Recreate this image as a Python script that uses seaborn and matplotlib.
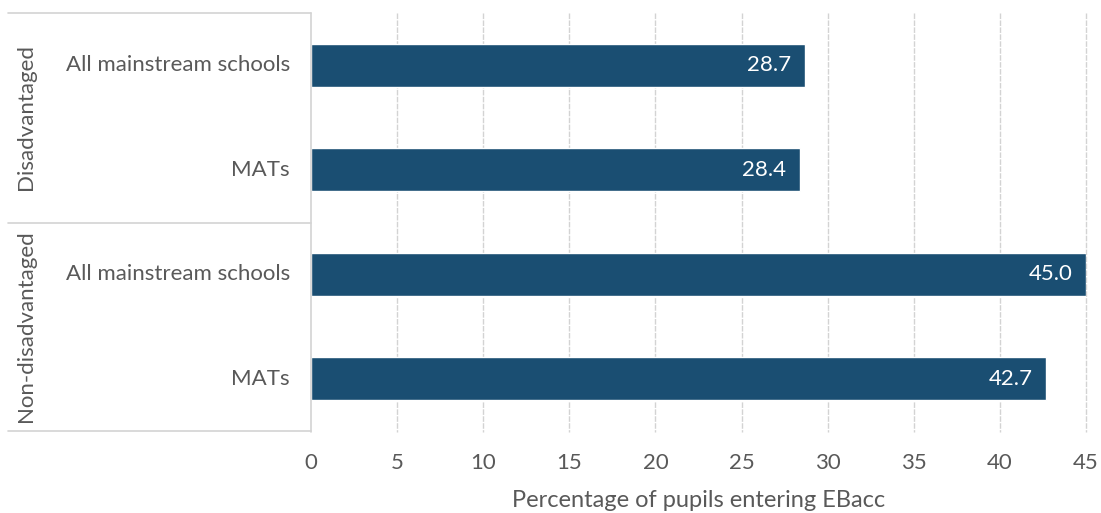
import matplotlib
matplotlib.use("Agg")
import matplotlib.pyplot as plt
from matplotlib.lines import Line2D
import seaborn as sns
import pandas as pd

# Chart data
groups = ["Disadvantaged", "Disadvantaged", "Non-disadvantaged", "Non-disadvantaged"]
schools = ["All mainstream schools", "MATs", "All mainstream schools", "MATs"]
ebacc_entry = [28.7, 28.4, 45.0, 42.7]
x_ticks = [0, 5, 10, 15, 20, 25, 30, 35, 40, 45]
x_label = "Percentage of pupils entering EBacc"

df = pd.DataFrame({
    "group": groups,
    "school": schools,
    "value": ebacc_entry,
})
df["row"] = df["group"] + " | " + df["school"]

sns.set_theme(style="white")
plt.rcParams["font.family"] = ["Lato", "DejaVu Sans"]

TEXT = "#595959"
GRID = "#D3D3D3"
BAR = "#1A4E72"
FS = 16

W, H = 1101, 513
fig = plt.figure(figsize=(W / 100, H / 100), dpi=100)
left, right, top, bottom = 311, 1086, 13, 431
ax = fig.add_axes([left / W, 1 - bottom / H, (right - left) / W, (bottom - top) / H])

sns.barplot(data=df, x="value", y="row", orient="h", color=BAR,
            width=0.41, saturation=1, ax=ax, errorbar=None)

ax.set_xlim(0, 45)
ax.set_ylim(3.5, -0.5)
ax.set_xticks(x_ticks)
ax.set_xticklabels([str(t) for t in x_ticks], color=TEXT, fontsize=FS)
ax.tick_params(axis="x", length=0, pad=16)
ax.set_xlabel(x_label, color=TEXT, fontsize=17, labelpad=12)
ax.set_ylabel("")
ax.set_yticklabels([])
ax.tick_params(axis="y", length=0)

for s in ax.spines.values():
    s.set_visible(False)

# dashed vertical gridlines running slightly below the plot area
for t in x_ticks[1:]:
    ax.plot([t, t], [-0.5, 3.51], color=GRID, lw=1.0,
            ls=(0, (4, 1)), zorder=0, clip_on=False)

# value labels inside the bar ends
for i, v in enumerate(df["value"]):
    ax.text(v - 0.8, i, f"{v:.1f}", ha="right", va="center",
            color="white", fontsize=FS)

# two-level category axis drawn in figure pixels
def fx(px):
    return px / W

def fy(py):
    return 1 - py / H

line_kw = dict(color=GRID, lw=1.2, transform=fig.transFigure)
fig.add_artist(Line2D([fx(310.5), fx(310.5)], [fy(top), fy(432)], **line_kw))
fig.add_artist(Line2D([fx(8), fx(310.5)], [fy(top), fy(top)], **line_kw))
fig.add_artist(Line2D([fx(8), fx(310.5)], [fy(223), fy(223)], **line_kw))
fig.add_artist(Line2D([fx(8), fx(310.5)], [fy(431), fy(431)], **line_kw))

# inner labels (school type) aligned to each bar
for i, name in enumerate(df["school"]):
    ax.text(-0.027, i, name, transform=ax.get_yaxis_transform(),
            ha="right", va="center", color=TEXT, fontsize=FS)

# outer labels (pupil group), rotated
for name, (y0, y1) in zip(["Disadvantaged", "Non-disadvantaged"],
                          [(top, 223), (223, 431)]):
    fig.text(fx(26), fy((y0 + y1) / 2 - 1), name, rotation=90,
             ha="center", va="center", color=TEXT, fontsize=FS)

fig.savefig("out.png", dpi=100)
